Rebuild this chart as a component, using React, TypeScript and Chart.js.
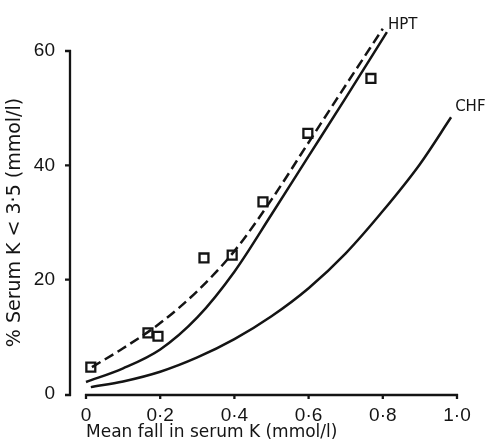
import React, { useEffect, useRef } from "react";
import { Chart, registerables } from "chart.js";

Chart.register(...registerables);

// ---- data ----
const xTicks = [0, 0.2, 0.4, 0.6, 0.8, 1.0];
const yTicks = [0, 20, 40, 60];

const observedX = [0.013, 0.167, 0.194, 0.318, 0.394, 0.477, 0.598, 0.768];
const observedY = [4.7, 10.7, 10.1, 23.8, 24.3, 33.6, 45.6, 55.2];

const hptFitX = [0.016, 0.1, 0.2, 0.3, 0.4, 0.5, 0.6, 0.7, 0.8];
const hptFitY = [4.7, 8.0, 12.4, 18.0, 25.0, 34.0, 44.0, 54.0, 63.9];

const hptX = [0, 0.1, 0.2, 0.3, 0.4, 0.5, 0.6, 0.7, 0.811];
const hptY = [2.1, 4.5, 7.8, 13.4, 21.4, 31.4, 41.6, 51.8, 63.3];

const chfX = [0.013, 0.1, 0.2, 0.3, 0.4, 0.5, 0.6, 0.7, 0.8, 0.9, 0.984];
const chfY = [1.2, 2.2, 3.9, 6.4, 9.6, 13.6, 18.5, 24.6, 32.0, 40.2, 48.4];

const curveLabels = ["HPT", "CHF"];
const curveLabelX = [0.814, 0.995];
const curveLabelY = [64.5, 50.2];

const xTitle = "Mean fall in serum K (mmol/l)";
const yTitle = "% Serum K < 3·5 (mmol/l)";

const INK = "#141414";
const TITLE_FONT = "'DejaVu Sans', sans-serif";
const TICK_FONT = "'Liberation Sans', Arial, sans-serif";

const pts = (xs: number[], ys: number[]) => xs.map((x, i) => ({ x, y: ys[i] }));

const fmt = (v: number) => (v === 0 ? "0" : v.toFixed(1).replace(".", "·"));

const axesPlugin = {
  id: "customAxes",
  afterDraw(chart: any) {
    const { ctx, chartArea } = chart;
    const xs = chart.scales.x;
    const ys = chart.scales.y;
    ctx.save();
    ctx.strokeStyle = INK;
    ctx.lineWidth = 2.3;
    ctx.lineCap = "butt";

    // y axis (detached, left of the plot)
    const ax = chartArea.left - 16;
    const yTop = ys.getPixelForValue(yTicks[yTicks.length - 1]);
    const yBot = ys.getPixelForValue(yTicks[0]) + 1;
    ctx.beginPath();
    ctx.moveTo(ax, yTop - 1);
    ctx.lineTo(ax, yBot + 1);
    for (const t of yTicks) {
      const py = ys.getPixelForValue(t) + (t === 0 ? 1 : 0);
      ctx.moveTo(ax - 5, py);
      ctx.lineTo(ax + 1, py);
    }
    ctx.stroke();

    // x axis
    const ay = chartArea.bottom + 1;
    const xl = xs.getPixelForValue(xTicks[0]);
    const xr = xs.getPixelForValue(xTicks[xTicks.length - 1]);
    ctx.beginPath();
    ctx.moveTo(xl - 1, ay);
    ctx.lineTo(xr + 1, ay);
    for (const t of xTicks) {
      const px = xs.getPixelForValue(t);
      ctx.moveTo(px, ay - 1);
      ctx.lineTo(px, ay + 4);
    }
    ctx.stroke();

    // curve labels
    ctx.fillStyle = INK;
    ctx.font = `15px ${TITLE_FONT}`;
    ctx.textAlign = "left";
    ctx.textBaseline = "middle";
    curveLabels.forEach((t, i) => {
      ctx.fillText(t, xs.getPixelForValue(curveLabelX[i]), ys.getPixelForValue(curveLabelY[i]));
    });
    ctx.restore();
  },
};

export default function App() {
  const ref = useRef<HTMLCanvasElement | null>(null);

  useEffect(() => {
    if (!ref.current) return;
    const lineBase = {
      showLine: true,
      pointRadius: 0,
      borderColor: INK,
      borderWidth: 2.5,
      cubicInterpolationMode: "monotone" as const,
      fill: false,
      clip: false as any,
    };
    const chart = new Chart(ref.current, {
      type: "scatter",
      data: {
        datasets: [
          { ...lineBase, label: "HPT fit", data: pts(hptFitX, hptFitY), borderDash: [10, 5] },
          { ...lineBase, label: "HPT", data: pts(hptX, hptY) },
          { ...lineBase, label: "CHF", data: pts(chfX, chfY) },
          {
            label: "Observed",
            data: pts(observedX, observedY),
            showLine: false,
            pointStyle: "rect",
            pointRadius: 6.3,
            pointBorderWidth: 2.3,
            pointBackgroundColor: "#ffffff",
            pointBorderColor: INK,
            clip: false as any,
          },
        ],
      },
      options: {
        responsive: false,
        animation: false,
        events: [],
        layout: { padding: { top: 51, right: 33, left: 0, bottom: 0 } },
        plugins: { legend: { display: false }, tooltip: { enabled: false } },
        scales: {
          x: {
            type: "linear",
            min: 0,
            max: 1,
            border: { display: false },
            grid: { display: false, drawTicks: false },
            afterBuildTicks: (s: any) => {
              s.ticks = xTicks.map((v) => ({ value: v }));
            },
            afterFit: (s: any) => {
              s.height = 49;
            },
            ticks: {
              color: INK,
              padding: 10,
              maxRotation: 0,
              autoSkip: false,
              font: { family: TICK_FONT, size: 19 },
              callback: (v: any) => fmt(Number(v)),
            },
            title: {
              display: true,
              text: xTitle,
              align: "start",
              color: INK,
              padding: { top: 0, bottom: 0 },
              font: { family: TITLE_FONT, size: 17 },
            },
          },
          y: {
            type: "linear",
            min: 0,
            max: 60,
            border: { display: false },
            grid: { display: false, drawTicks: false },
            afterBuildTicks: (s: any) => {
              s.ticks = yTicks.map((v) => ({ value: v }));
            },
            afterFit: (s: any) => {
              s.width = 86;
            },
            ticks: {
              color: INK,
              padding: 31,
              font: { family: TICK_FONT, size: 19 },
              callback: (v: any) => String(v),
            },
            title: {
              display: true,
              text: yTitle,
              color: INK,
              padding: { top: 4, bottom: 0 },
              font: { family: TITLE_FONT, size: 19 },
            },
          },
        },
      },
      plugins: [axesPlugin],
    });
    return () => chart.destroy();
  }, []);

  return (
    <div style={{ position: "fixed", left: 0, top: 0, width: 490, height: 443, background: "#fff" }}>
      <canvas ref={ref} width={490} height={443} style={{ display: "block" }} />
    </div>
  );
}
